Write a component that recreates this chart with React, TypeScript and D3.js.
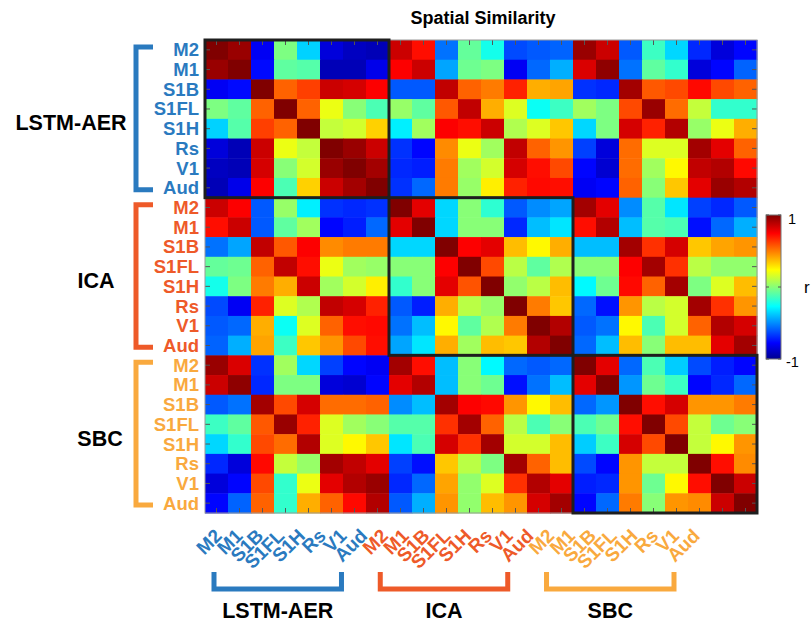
import React from 'react';
import * as d3 from 'd3';

const regions = ['M2', 'M1', 'S1B', 'S1FL', 'S1H', 'Rs', 'V1', 'Aud'];
const methods = ['LSTM-AER', 'ICA', 'SBC'];
const methodColors = ['#2a7abf', '#ee5a29', '#f9a93e'];
const colorbarTicks = [-1, 0, 1];

// correlation blocks (rows x cols), upper triangle of the 3x3 method grid
const lstmLstm = [
  [1.00, 0.95, -0.80, -0.02, -0.36, -0.85, -0.90, -0.92],
  [0.95, 1.00, -0.76, -0.08, -0.10, -0.92, -0.92, -0.82],
  [-0.80, -0.76, 1.00, 0.55, 0.62, 0.85, 0.83, 0.75],
  [-0.02, -0.08, 0.55, 1.00, 0.55, 0.20, 0.00, -0.12],
  [-0.36, -0.10, 0.62, 0.55, 1.00, 0.12, 0.15, 0.33],
  [-0.85, -0.92, 0.85, 0.20, 0.12, 1.00, 0.95, 0.85],
  [-0.90, -0.92, 0.83, 0.00, 0.15, 0.95, 1.00, 0.93],
  [-0.92, -0.82, 0.75, -0.12, 0.33, 0.85, 0.93, 1.00],
];
const lstmIca = [
  [0.85, 0.72, -0.55, -0.07, -0.23, -0.63, -0.60, -0.58],
  [0.75, 0.85, -0.45, -0.05, -0.02, -0.80, -0.57, -0.43],
  [-0.60, -0.60, 0.87, 0.55, 0.50, 0.68, 0.40, 0.42],
  [0.03, -0.08, 0.57, 0.87, 0.40, 0.17, -0.25, -0.15],
  [-0.30, 0.05, 0.75, 0.72, 0.85, 0.08, 0.17, 0.35],
  [-0.68, -0.77, 0.47, 0.20, 0.05, 0.87, 0.55, 0.45],
  [-0.70, -0.72, 0.50, 0.05, 0.15, 0.83, 0.72, 0.60],
  [-0.68, -0.57, 0.50, 0.03, 0.27, 0.68, 0.73, 0.72],
];
const lstmSbc = [
  [0.95, 0.85, -0.60, -0.15, -0.35, -0.70, -0.85, -0.77],
  [0.82, 0.97, -0.55, -0.08, -0.17, -0.85, -0.77, -0.58],
  [-0.68, -0.70, 0.93, 0.57, 0.60, 0.73, 0.60, 0.55],
  [0.05, -0.02, 0.60, 0.95, 0.53, 0.12, -0.17, -0.17],
  [-0.35, -0.02, 0.83, 0.68, 0.90, 0.03, 0.20, 0.40],
  [-0.65, -0.85, 0.53, 0.17, 0.17, 0.93, 0.80, 0.55],
  [-0.77, -0.87, 0.53, 0.05, 0.25, 0.87, 0.90, 0.73],
  [-0.80, -0.77, 0.55, 0.00, 0.35, 0.80, 0.95, 0.90],
];
const icaIca = [
  [1.00, 0.80, -0.35, 0.00, -0.18, -0.60, -0.50, -0.45],
  [0.80, 1.00, -0.35, 0.00, 0.00, -0.70, -0.40, -0.32],
  [-0.35, -0.35, 1.00, 0.75, 0.80, 0.37, 0.25, 0.40],
  [0.00, 0.00, 0.75, 1.00, 0.60, 0.10, -0.08, 0.08],
  [-0.17, 0.00, 0.80, 0.58, 1.00, 0.02, 0.10, 0.37],
  [-0.60, -0.72, 0.40, 0.10, 0.03, 1.00, 0.50, 0.35],
  [-0.55, -0.40, 0.25, -0.08, 0.08, 0.50, 1.00, 0.90],
  [-0.45, -0.32, 0.40, 0.05, 0.37, 0.35, 0.90, 1.00],
];
const icaSbc = [
  [0.93, 0.80, -0.50, -0.10, -0.32, -0.65, -0.70, -0.60],
  [0.72, 0.90, -0.40, -0.10, -0.12, -0.75, -0.57, -0.43],
  [-0.40, -0.40, 0.93, 0.65, 0.83, 0.35, 0.42, 0.45],
  [0.00, 0.00, 0.75, 0.93, 0.65, 0.10, 0.02, 0.02],
  [-0.28, -0.05, 0.73, 0.55, 0.93, -0.02, 0.17, 0.37],
  [-0.57, -0.75, 0.45, 0.10, 0.15, 0.93, 0.65, 0.45],
  [-0.60, -0.55, 0.25, -0.12, 0.15, 0.55, 0.90, 0.83],
  [-0.57, -0.40, 0.37, 0.00, 0.37, 0.37, 0.80, 0.93],
];
const sbcSbc = [
  [1.00, 0.80, -0.57, -0.12, -0.37, -0.63, -0.72, -0.77],
  [0.80, 1.00, -0.48, -0.05, -0.15, -0.77, -0.70, -0.57],
  [-0.57, -0.48, 1.00, 0.72, 0.83, 0.45, 0.45, 0.50],
  [-0.12, -0.05, 0.72, 1.00, 0.60, 0.12, -0.05, 0.00],
  [-0.37, -0.15, 0.83, 0.60, 1.00, 0.12, 0.25, 0.45],
  [-0.63, -0.77, 0.45, 0.12, 0.12, 1.00, 0.72, 0.47],
  [-0.72, -0.70, 0.45, -0.05, 0.25, 0.72, 1.00, 0.85],
  [-0.77, -0.57, 0.50, 0.00, 0.45, 0.47, 0.85, 1.00],
];

const upperBlocks = [
  [lstmLstm, lstmIca, lstmSbc],
  [null, icaIca, icaSbc],
  [null, null, sbcSbc],
];

const font = 'Liberation Sans, Arial, Helvetica, sans-serif';

// MATLAB jet
const jet = d3
  .scaleLinear<string>()
  .domain([-1, -0.778, -0.27, 0.238, 0.746, 1])
  .range(['#00008f', '#0000ff', '#00ffff', '#ffff00', '#ff0000', '#800000'])
  .clamp(true);

function buildCells() {
  const n = regions.length;
  const cells: { row: number; col: number; value: number }[] = [];
  methods.forEach((_, gi) => {
    methods.forEach((_, gj) => {
      for (let i = 0; i < n; i++) {
        for (let j = 0; j < n; j++) {
          const value = gi <= gj ? upperBlocks[gi][gj]![i][j] : upperBlocks[gj][gi]![j][i];
          cells.push({ row: gi * n + i, col: gj * n + j, value });
        }
      }
    });
  });
  return cells;
}

export default function App() {
  const W = 811;
  const H = 625;
  const n = regions.length;
  const total = n * methods.length;
  const idx = d3.range(total);

  const x = d3.scaleBand<number>().domain(idx).range([205, 757]);
  const y = d3.scaleBand<number>().domain(idx).range([40, 513]);
  const bw = x.bandwidth();
  const bh = y.bandwidth();

  // the bottom annotation sits on a slightly narrower axis than the matrix
  const lx = d3.scaleLinear().domain([0, total - 1]).range([223, 701]);

  const cb = d3.scaleLinear().domain([-1, 1]).range([359, 215]);
  const cbX = 766;
  const cbW = 15;
  const stops = d3.range(0, 1.0001, 1 / 63);

  const cells = buildCells();
  const leftLabelX = [71, 96, 100];

  return (
    <svg
      width={W}
      height={H}
      style={{ position: 'absolute', left: 0, top: 0, background: '#fff' }}
      fontFamily={font}
    >
      <defs>
        <linearGradient id="jet" x1="0" y1="1" x2="0" y2="0">
          {stops.map((t, i) => (
            <stop key={i} offset={t} stopColor={jet(-1 + 2 * t)} />
          ))}
        </linearGradient>
      </defs>

      <text x={(205 + 757) / 2 + 2} y={24} textAnchor="middle" fontSize={18} fontWeight="bold">
        Spatial Similarity
      </text>

      <g>
        {cells.map((c) => (
          <rect
            key={c.row + '-' + c.col}
            x={x(c.col)}
            y={y(c.row)}
            width={bw + 0.5}
            height={bh + 0.5}
            fill={jet(c.value)}
          />
        ))}
      </g>

      {/* axis ticks, inside */}
      <g stroke="#555" strokeWidth={1}>
        {idx.map((k) => (
          <g key={k}>
            <line x1={x(k)! + bw / 2} x2={x(k)! + bw / 2} y1={40} y2={45} />
            <line x1={x(k)! + bw / 2} x2={x(k)! + bw / 2} y1={513} y2={508} />
            <line x1={205} x2={210} y1={y(k)! + bh / 2} y2={y(k)! + bh / 2} />
            <line x1={757} x2={752} y1={y(k)! + bh / 2} y2={y(k)! + bh / 2} />
          </g>
        ))}
      </g>
      <rect x={205} y={40} width={552} height={473} fill="none" stroke="#999" strokeWidth={1} />

      {/* diagonal block outlines */}
      {methods.map((m, g) => (
        <rect
          key={m}
          x={x(g * n)}
          y={y(g * n)}
          width={bw * n}
          height={bh * n}
          fill="none"
          stroke="#1e1e1e"
          strokeWidth={3}
        />
      ))}

      {/* row labels + left brackets */}
      {methods.map((m, g) => {
        const t = y(g * n)! + 7;
        const b = y(g * n + n - 1)! + bh - 8;
        return (
          <g key={m}>
            {regions.map((r, i) => (
              <text
                key={r}
                x={199}
                y={y(g * n + i)! + bh / 2}
                textAnchor="end"
                dominantBaseline="central"
                fontSize={18.5}
                fontWeight="bold"
                fill={methodColors[g]}
              >
                {r}
              </text>
            ))}
            <path
              d={`M153,${t}H136V${b}H153`}
              fill="none"
              stroke={methodColors[g]}
              strokeWidth={5}
            />
            <text
              x={leftLabelX[g]}
              y={(t + b) / 2 + 5}
              textAnchor="middle"
              dominantBaseline="central"
              fontSize={21.5}
              fontWeight="bold"
              fill="#000"
            >
              {m}
            </text>
          </g>
        );
      })}

      {/* column labels + bottom brackets */}
      {methods.map((m, g) => {
        const l = lx(g * n) - 9;
        const r = lx(g * n + n - 1) - 27;
        return (
          <g key={m}>
            {regions.map((reg, i) => (
              <text
                key={reg}
                transform={`translate(${lx(g * n + i)},537) rotate(-45)`}
                textAnchor="end"
                fontSize={19}
                fontWeight="bold"
                fill={methodColors[g]}
              >
                {reg}
              </text>
            ))}
            <path
              d={`M${l},572V589H${r}V572`}
              fill="none"
              stroke={methodColors[g]}
              strokeWidth={5}
            />
            <text
              x={(l + r) / 2}
              y={611}
              textAnchor="middle"
              dominantBaseline="central"
              fontSize={21.5}
              fontWeight="bold"
              fill="#000"
            >
              {m}
            </text>
          </g>
        );
      })}

      {/* colorbar */}
      <rect x={cbX} y={215} width={cbW} height={144} fill="url(#jet)" stroke="#777" strokeWidth={1} />
      {colorbarTicks.map((t) => (
        <g key={t}>
          <line x1={cbX} x2={cbX + 3} y1={cb(t)} y2={cb(t)} stroke="#555" />
          <line x1={cbX + cbW} x2={cbX + cbW - 3} y1={cb(t)} y2={cb(t)} stroke="#555" />
        </g>
      ))}
      {[-1, 1].map((t) => (
        <text
          key={t}
          x={t < 0 ? 786 : 788}
          y={cb(t) + (t < 0 ? 3 : 4)}
          dominantBaseline="central"
          fontSize={14.5}
          fill="#000"
        >
          {t}
        </text>
      ))}
      <text x={804} y={cb(0)} dominantBaseline="central" fontSize={17} fill="#000">
        r
      </text>
    </svg>
  );
}
